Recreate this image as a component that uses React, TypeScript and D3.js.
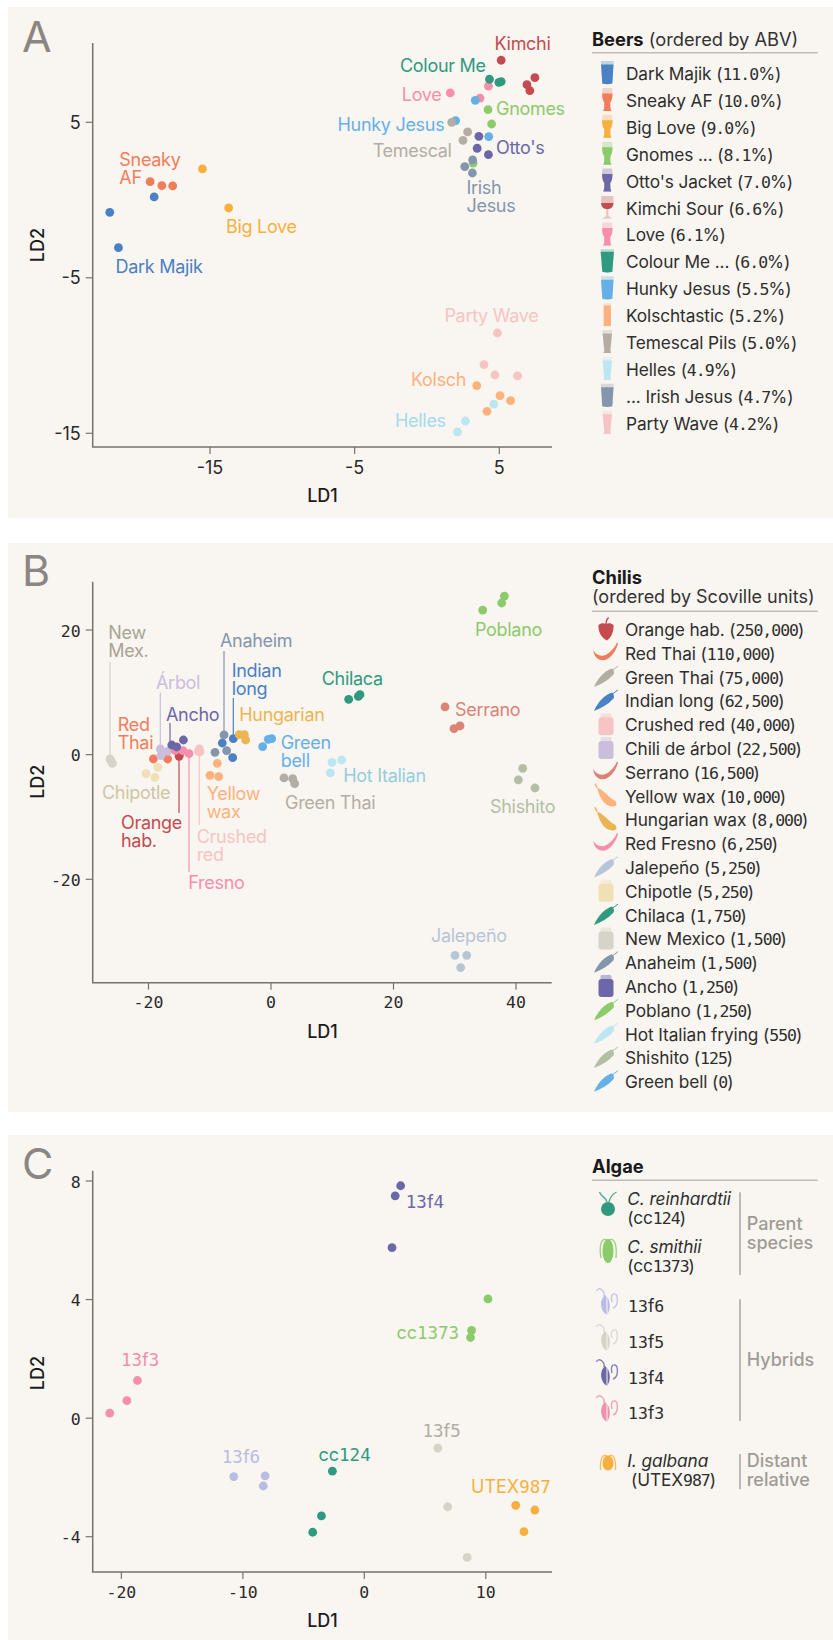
import React from 'react';
import * as d3 from 'd3';

// ---------- data ----------
const beerNames = ['Dark Majik','Sneaky AF','Big Love','Gnomes','Otto','Kimchi','Love','Colour Me','Hunky Jesus','Kolsch','Temescal','Helles','Irish Jesus','Party Wave'];
const beerPoints: [number,number][][] = [
  [[-21.93,-0.79],[-21.33,-3.06],[-18.86,0.2]],
  [[-19.14,1.18],[-18.33,0.93],[-17.58,0.91]],
  [[-15.52,2.0],[-13.71,-0.51]],
  [[4.22,5.81],[4.47,4.89],[3.19,2.38]],
  [[3.59,4.1],[3.47,3.33],[4.25,2.92]],
  [[5.13,8.99],[7.46,7.87],[6.91,7.42],[7.11,7.04]],
  [[1.61,6.89],[4.25,7.32],[3.67,6.56]],
  [[4.32,7.77],[4.97,7.57],[5.13,7.62]],
  [[3.34,6.41],[1.98,5.11],[4.27,4.08]],
  [[3.44,-11.93],[5.05,-12.58],[5.78,-12.9],[4.15,-13.59]],
  [[1.71,5.0],[2.81,4.38],[2.49,3.84]],
  [[4.62,-13.13],[2.66,-14.21],[2.11,-14.91]],
  [[3.16,2.58],[2.61,2.15],[3.14,1.74]],
  [[4.87,-8.55],[3.94,-10.58],[4.7,-11.25],[6.26,-11.31]],
];
const beerColors = ['#4a80c4','#f27d5a','#f7b03e','#8bcb6b','#6c68a8','#c44b4f','#f78fab','#2f9a80','#66b0e8','#fdb27d','#b3ada4','#bde6f3','#8496ad','#f6c4c2'];
const beerLegend = ['Dark Majik (11.0%)','Sneaky AF (10.0%)','Big Love (9.0%)','Gnomes ... (8.1%)',"Otto's Jacket (7.0%)",'Kimchi Sour (6.6%)','Love (6.1%)','Colour Me ... (6.0%)','Hunky Jesus (5.5%)','Kolschtastic (5.2%)','Temescal Pils (5.0%)','Helles (4.9%)','... Irish Jesus (4.7%)','Party Wave (4.2%)'];
const beerGlass = ['pint','tulip','tulip','tulip','tulip','wine','tulip','wide','pint','stange','pils','pils','pint','pils'];

const chiliPoints: [number,number][][] = [
  [[-15.0,-0.27],[-15.4,0.6],[-14.9,0.2]],
  [[-19.2,-0.7],[-16.87,-0.7],[-15.4,1.07]],
  [[2.12,-3.74],[3.54,-3.85],[3.86,-4.65]],
  [[-7.95,1.87],[-6.15,2.57],[-6.26,-0.48]],
  [[-11.7,0.91],[-11.6,0.43],[-11.86,0.53]],
  [[-18.07,0.91],[-18.0,-0.16],[-16.87,0.53]],
  [[28.41,7.65],[29.88,4.17],[30.86,4.6]],
  [[-8.76,-1.39],[-9.96,-3.32],[-8.54,-3.53]],
  [[-5.17,3.21],[-4.35,3.21],[-4.14,2.35]],
  [[-14.4,0.64],[-13.39,0.16],[-15.67,0.7]],
  [[30.04,-32.2],[31.95,-32.2],[30.97,-34.17]],
  [[-18.5,-2.03],[-20.4,-3.05],[-18.94,-3.64]],
  [[12.68,8.88],[14.26,9.36],[14.53,9.63]],
  [[-26.29,-0.7],[-25.9,-1.39],[-26.1,-1.0]],
  [[-7.67,3.16],[-9.14,0.37],[-7.24,0.64]],
  [[-16.2,1.55],[-15.4,1.23],[-14.3,2.35]],
  [[34.56,23.2],[37.66,24.33],[38.1,25.45]],
  [[11.54,-0.86],[9.96,-1.23],[9.69,-2.94]],
  [[41.09,-2.19],[40.38,-4.06],[43.1,-5.35]],
  [[-1.36,1.28],[-0.44,2.46],[0.11,2.57]],
];
const chiliColors = ['#c44b4f','#f27d5a','#b3ada4','#4a80c4','#f6c4c2','#cbbedd','#dc8376','#fdb27d','#ecb553','#f78fab','#b6c6d6','#efe0b5','#2f9a80','#d6d3c8','#8496ad','#6c68a8','#8bcb6b','#bde6f3','#b3bfa5','#66b0e8'];
const chiliLegend = ['Orange hab. (250,000)','Red Thai (110,000)','Green Thai (75,000)','Indian long (62,500)','Crushed red (40,000)','Chili de árbol (22,500)','Serrano (16,500)','Yellow wax (10,000)','Hungarian wax (8,000)','Red Fresno (6,250)','Jalepeño (5,250)','Chipotle (5,250)','Chilaca (1,750)','New Mexico (1,500)','Anaheim (1,500)','Ancho (1,250)','Poblano (1,250)','Hot Italian frying (550)','Shishito (125)','Green bell (0)'];
const chiliShape = ['hab','thin','long','long','jar','jar','thin','wax','wax','thin','long','jar','long','jar','long','jar','long','long','long','long'];

const algaeNames = ['13f4','cc1373','13f3','13f5','13f6','cc124','UTEX987'];
const algaePoints: [number,number][][] = [
  [[2.99,7.84],[2.54,7.5],[2.28,5.75]],
  [[10.18,4.02],[8.83,2.96],[8.74,2.72]],
  [[-18.68,1.27],[-19.55,0.59],[-20.96,0.17]],
  [[6.05,-1.01],[6.86,-2.99],[8.47,-4.7]],
  [[-10.75,-1.97],[-8.17,-1.95],[-8.32,-2.29]],
  [[-2.63,-1.79],[-3.53,-3.3],[-4.25,-3.85]],
  [[12.46,-2.94],[14.04,-3.1],[13.14,-3.83]],
];
const algaeColors = ['#6c68a8','#8bcb6b','#f78fab','#d6d3c8','#b8bde3','#2f9a80','#f7b03e'];

const xTicksA = [-15,-5,5]; const yTicksA = [5,-5,-15];
const xTicksB = [-20,0,20,40]; const yTicksB = [20,0,-20];
const xTicksC = [-20,-10,0,10]; const yTicksC = [8,4,0,-4];

// ---------- layout of annotations ----------
type L = [string[], number, number, string];
const labelsA: L[] = [
  [['Kimchi'],494.5,50,'#c44b4f'],[['Colour Me'],400,72.3,'#2f9a80'],[['Love'],401.8,100.7,'#f78fab'],
  [['Gnomes'],496,115,'#8bcb6b'],[['Hunky Jesus'],337.5,130.7,'#66b0e8'],[["Otto's"],496,154,'#6c68a8'],
  [['Temescal'],372.7,157.3,'#b3ada4'],[['Sneaky','AF'],119.3,165.7,'#f27d5a'],[['Big Love'],226,233,'#f7b03e'],
  [['Dark Majik'],115.6,272.7,'#4a80c4'],[['Irish','Jesus'],466.5,194.3,'#8496ad'],[['Party Wave'],444.4,322.3,'#f6c4c2'],
  [['Kolsch'],411,385.7,'#fdb27d'],[['Helles'],395,427,'#a3dbec'],
];
const labelsB: L[] = [
  [['New','Mex.'],108.3,639,'#a8a494'],[['Anaheim'],220,646.7,'#8496ad'],[['Indian','long'],231.7,676.7,'#4a80c4'],
  [['Árbol'],156,689,'#cbbedd'],[['Ancho'],166,720.7,'#6c68a8'],[['Hungarian'],239.3,720.7,'#ecb553'],
  [['Red','Thai'],117.7,731.3,'#f27d5a'],[['Chipotle'],102,799,'#cfc6a6'],[['Orange','hab.'],121,829.3,'#c44b4f'],
  [['Yellow','wax'],206.7,800,'#fdb27d'],[['Crushed','red'],196.7,842.7,'#f6c4c2'],[['Fresno'],188.3,889,'#f78fab'],
  [['Green','bell'],280.7,748.7,'#66b0e8'],[['Chilaca'],321.7,685,'#2f9a80'],[['Poblano'],475,636.3,'#8bcb6b'],
  [['Serrano'],455,715.7,'#dc8376'],[['Hot Italian'],343.3,782,'#93cde0'],[['Green Thai'],285,808.7,'#b3ada4'],
  [['Shishito'],490,813.3,'#b3bfa5'],[['Jalepeño'],431,942.3,'#b6c6d6'],
];
const leadersB: [number,number,number,string][] = [
  [110,661.7,755,'#d6d3c8'],[224,651,731.7,'#8496ad'],[233.3,698,735,'#4a80c4'],[160.3,692.7,746.7,'#cbbedd'],
  [170,723,743,'#6c68a8'],[179,813,758,'#c44b4f'],[199.3,825,753,'#f6c4c2'],[189,871.7,755,'#f78fab'],
];
const labelsC: [string,number,number,string][] = [
  ['13f4',405.8,1208,'#6c68a8'],['cc1373',396.4,1339.3,'#8bcb6b'],['13f3',121,1366.3,'#f08fab'],['13f5',422.5,1437,'#b3ada4'],
  ['13f6',221.8,1463.3,'#b8bde3'],['cc124',318.5,1460.7,'#2f9a80'],['UTEX987',471,1493.3,'#f7b03e'],
];

const SANS = 'Inter, "Noto Sans", sans-serif';
const MONO = '"DejaVu Sans Mono", monospace';
const INK = '#2a2a2a';
const AXIS = '#77726d';
const PANEL = '#f9f5f0';

function Mixed({ t, size, ls = 0 }: { t: string; size: number; ls?: number }) {
  return <>{t.split(/(\d[\d.,]*)/).map((s, i) =>
    /^\d/.test(s) ? <tspan key={i} fontFamily={MONO} fontSize={size} letterSpacing={ls}>{s}</tspan> : <tspan key={i}>{s}</tspan>)}</>;
}

function Glass({ kind, c, x, y }: { kind: string; c: string; x: number; y: number }) {
  const shapes: Record<string,[string,string]> = {
    pint: ['M-6.5,-11.5L6.5,-11.5L5,11Q0,12.5 -5,11Z','M-6.2,-8L6.2,-8L5,11Q0,12.5 -5,11Z'],
    wide: ['M-6.8,-11.5L6.8,-11.5L5,11Q0,12.5 -5,11Z','M-6.6,-9L6.6,-9L5,11Q0,12.5 -5,11Z'],
    tulip: ['M-4.6,-11.5C-5.8,-6 -5.4,0 -3,3L-3,8L-4,11.5L4,11.5L3,8L3,3C5.4,0 5.8,-6 4.6,-11.5Z','M-5.2,-6C-5.2,-2 -4.6,1 -3,3L-3,8L-4,11.5L4,11.5L3,8L3,3C4.6,1 5.2,-2 5.2,-6Z'],
    wine: ['M-6,-11C-7,-3 -5,1 -1,2L-1,9L-5,11.5L5,11.5L1,9L1,2C5,1 7,-3 6,-11Z','M-6.2,-4C-6,0 -4,1.5 -1,2L1,2C4,1.5 6,0 6.2,-4Z'],
    stange: ['M-3.6,-11.5L3.6,-11.5L3.6,11.5L-3.6,11.5Z','M-3.6,-9L3.6,-9L3.6,11.5L-3.6,11.5Z'],
    pils: ['M-5,-11.5L5,-11.5L3,9L4,11.5L-4,11.5L-3,9Z','M-4.7,-8L4.7,-8L3,9L4,11.5L-4,11.5L-3,9Z'],
  };
  const [o, l] = shapes[kind];
  return <g transform={`translate(${x},${y})`}><path d={o} fill={c} opacity={0.3} /><path d={l} fill={c} /></g>;
}

function Chili({ kind, c, x, y }: { kind: string; c: string; x: number; y: number }) {
  const g = (ch: React.ReactNode) => <g transform={`translate(${x},${y})`}>{ch}</g>;
  if (kind === 'jar') return g(<><rect x={-7.5} y={-7} width={15} height={18} rx={3} fill={c} /><rect x={-5.5} y={-11} width={11} height={4.5} rx={1.5} fill={c} opacity={0.45} /></>);
  if (kind === 'hab') return g(<><path d="M-7.5,-4C-5,-6.5 -2,-6 0,-5C2,-6 5,-6.5 7.5,-4C8,1 6,8 1,11.5C-5,9 -8,2 -7.5,-4Z" fill={c} /><path d="M0,-5C0,-8 1,-10 2.5,-11.5" stroke={c} strokeWidth={1.5} fill="none" /></>);
  if (kind === 'thin') return g(<path d="M-12.5,-3C-11,2 -5,4.5 0,2C4,0 9,-5 11,-10.5L12,-9C10,-2 5,6 -2,7.5C-8,8 -13,3 -12.5,-3Z" fill={c} />);
  if (kind === 'wax') return g(<><path d="M-9,-8C-4,-6 0,-2 3,1C6,4 10.5,5 10.5,8C10.5,12 5,11.5 1,9.5C-4,6 -7,0 -9,-8Z" fill={c} /><path d="M-9,-8L-11,-12" stroke={c} strokeWidth={1.5} /></>);
  return g(<><path d="M-12,10.5C-8,1 -1,-6 6,-8C8,-6 8.5,-4 7.5,-2C2,4 -5,8 -12,10.5Z" fill={c} /><path d="M6,-6L12,-10.5" stroke={c} strokeWidth={1} /></>);
}

function Alga({ kind, c, x, y }: { kind: string; c: string; x: number; y: number }) {
  const fl = { stroke: c, strokeWidth: 1.4, fill: 'none', opacity: 0.8 };
  let inner: React.ReactNode;
  if (kind === 'round') inner = <><circle cx={0} cy={5} r={7} fill={c} /><path d="M-1,-2C-2,-7 -7,-7 -8.5,-12" {...fl} /><path d="M1,-2C2,-7 5,-10 8.5,-12" {...fl} /></>;
  else if (kind === 'oval') inner = <><ellipse cx={0} cy={1} rx={5.5} ry={12} fill={c} /><path d="M-1,-10C-7,-13 -9,-4 -7,8" {...fl} /><path d="M1,-10C7,-13 9,-4 8,8" {...fl} /></>;
  else if (kind === 'small') inner = <><ellipse cx={0} cy={0} rx={5.5} ry={7.5} fill={c} /><path d="M-1,-7C-6,-10 -8,-2 -7.5,7" {...fl} /><path d="M1,-7C6,-10 8,-2 7.5,7" {...fl} /></>;
  else inner = <><path d="M-2,-7C-8,-2 -7,9 0,13C4,8 4,-3 -2,-7Z" fill={c} /><path d="M0,-6L0,13" stroke={PANEL} strokeWidth={1} /><path d="M-3,-6C-2,-12 -9,-16 -10.5,-11" {...fl} /><path d="M6,6C12,4 11,-7 8,-8C4,-9 4,-3 5,0" {...fl} /></>;
  return <g transform={`translate(${x},${y})`}>{inner}</g>;
}

function Axes({ x, y, xt, yt, left, top, right, bottom, mono, xBase, ldxBase, ldyCenter, letter, letterBase }: any) {
  const fam = mono ? MONO : SANS;
  const fs = mono ? 16.5 : 18;
  return <g>
    <path d={`M${left},${top}V${bottom}H${right}`} fill="none" stroke={AXIS} strokeWidth={1.5} />
    {yt.map((t: number) => <g key={t}>
      <line x1={left - 7} x2={left} y1={y(t)} y2={y(t)} stroke={AXIS} strokeWidth={1.2} />
      <text x={left - 12} y={y(t) + 6.5} textAnchor="end" fontFamily={fam} fontSize={fs} fill={INK}>{String(t)}</text>
    </g>)}
    {xt.map((t: number) => <g key={t}>
      <line x1={x(t)} x2={x(t)} y1={bottom} y2={bottom + 7} stroke={AXIS} strokeWidth={1.2} />
      <text x={x(t)} y={xBase} textAnchor="middle" fontFamily={fam} fontSize={fs} fill={INK}>{String(t)}</text>
    </g>)}
    <text x={322.5} y={ldxBase} textAnchor="middle" fontFamily={SANS} fontSize={18} fontWeight={500} fill="#1c1c1c">LD1</text>
    <text transform={`translate(44.4,${ldyCenter}) rotate(-90)`} textAnchor="middle" fontFamily={SANS} fontSize={18} fontWeight={500} fill="#1c1c1c">LD2</text>
    <text x={22} y={letterBase} fontFamily={SANS} fontSize={43} fontWeight={400} fill="#8b8682">{letter}</text>
  </g>;
}

function Dots({ pts, x, y, colors, r }: any) {
  return <g>{pts.map((s: [number,number][], i: number) => s.map((p, j) =>
    <circle key={`${i}-${j}`} cx={x(p[0])} cy={y(p[1])} r={r} fill={colors[i]} />))}</g>;
}

function Labels({ items }: { items: L[] }) {
  return <g fontFamily={SANS} fontSize={18} letterSpacing={-0.3}>
    {items.map(([lines, lx, ly, c]) => <text key={lines.join()} fill={c}>
      {lines.map((t, i) => <tspan key={t} x={lx} y={ly + i * 18}>{t}</tspan>)}
    </text>)}
  </g>;
}

export default function App() {
  const xA = d3.scaleLinear().domain([-15, 5]).range([210, 499.3]);
  const yA = d3.scaleLinear().domain([-15, 5]).range([433.3, 122.3]);
  const xB = d3.scaleLinear().domain([0, 40]).range([271, 516]);
  const yB = d3.scaleLinear().domain([-20, 20]).range([879.3, 630]);
  const xC = d3.scaleLinear().domain([-20, 10]).range([121.4, 485.8]);
  const yC = d3.scaleLinear().domain([-4, 8]).range([1536.7, 1181]);
  const legendFont = { fontFamily: SANS, fontSize: 17.3, letterSpacing: -0.1, fill: '#2e2e2e' } as any;
  const DIG = 16.5;
  const DLS = -1;
  return (
    <div style={{ position: 'absolute', left: 0, top: 0 }}>
      <svg width={833} height={1640} style={{ display: 'block', background: '#fff' }}>
        <rect x={8} y={7} width={825} height={511} fill={PANEL} />
        <rect x={8} y={543} width={825} height={569} fill={PANEL} />
        <rect x={8} y={1135} width={825} height={505} fill={PANEL} />

        {/* A */}
        <Axes x={xA} y={yA} xt={xTicksA} yt={yTicksA} left={92.7} top={43} right={552} bottom={447} xBase={474} ldxBase={502} ldyCenter={245} letter="A" letterBase={51.7} />
        <Dots pts={beerPoints} x={xA} y={yA} colors={beerColors} r={4.4} />
        <Labels items={labelsA} />
        <text x={592} y={46} fontFamily={SANS} fontSize={18.3} fill="#1a1a1a"><tspan fontWeight={700}>Beers</tspan> <tspan fill="#333">(ordered by ABV)</tspan></text>
        <line x1={592} x2={817.7} y1={52.7} y2={52.7} stroke="#c2bbb4" strokeWidth={1.5} />
        {beerLegend.map((t, i) => <g key={t}>
          <Glass kind={beerGlass[i]} c={beerColors[i]} x={607.3} y={72.5 + i * 26.9} />
          <text x={626} y={80 + i * 26.9} {...legendFont}><Mixed t={t} size={DIG} ls={DLS} /></text>
        </g>)}

        {/* B */}
        <Axes x={xB} y={yB} xt={xTicksB} yt={yTicksB} left={92.7} top={581.7} right={551.7} bottom={982.7} mono xBase={1008} ldxBase={1038} ldyCenter={781.7} letter="B" letterBase={585.7} />
        {leadersB.map(([lx, y1, y2, c], i) => <line key={i} x1={lx} x2={lx} y1={y1} y2={y2} stroke={c} strokeWidth={1.2} />)}
        <Dots pts={chiliPoints} x={xB} y={yB} colors={chiliColors} r={4.4} />
        <Labels items={labelsB} />
        <text x={592} y={583.7} fontFamily={SANS} fontSize={18.3} fontWeight={700} fill="#1a1a1a">Chilis</text>
        <text x={592} y={602.7} fontFamily={SANS} fontSize={18} fill="#333">(ordered by Scoville units)</text>
        <line x1={592} x2={817.7} y1={611.3} y2={611.3} stroke="#c2bbb4" strokeWidth={1.5} />
        {chiliLegend.map((t, i) => <g key={t}>
          <Chili kind={chiliShape[i]} c={chiliColors[i]} x={606} y={629 + i * 23.8} />
          <text x={625} y={636 + i * 23.8} {...legendFont}><Mixed t={t} size={DIG} ls={DLS} /></text>
        </g>)}

        {/* C */}
        <Axes x={xC} y={yC} xt={xTicksC} yt={yTicksC} left={92.7} top={1170.7} right={552} bottom={1572} mono xBase={1598} ldxBase={1626.7} ldyCenter={1373} letter="C" letterBase={1179} />
        <Dots pts={algaePoints} x={xC} y={yC} colors={algaeColors} r={4.4} />
        <g fontFamily={SANS} fontSize={18}>
          {labelsC.map(([t, lx, ly, c]) => <text key={t} x={lx} y={ly} fill={c}><Mixed t={t} size={17.5} /></text>)}
        </g>
        <text x={592} y={1173.3} fontFamily={SANS} fontSize={18.3} fontWeight={700} fill="#1a1a1a">Algae</text>
        <line x1={592} x2={817.7} y1={1180.3} y2={1180.3} stroke="#c2bbb4" strokeWidth={1.5} />
        <Alga kind="round" c="#2f9a80" x={608} y={1204} />
        <Alga kind="oval" c="#8bcb6b" x={608} y={1250} />
        <Alga kind="half" c="#b8bde3" x={607} y={1302} />
        <Alga kind="half" c="#d6d3c8" x={607} y={1338} />
        <Alga kind="half" c="#6c68a8" x={607} y={1373} />
        <Alga kind="half" c="#ee90ab" x={607} y={1409} />
        <Alga kind="small" c="#f7b03e" x={608} y={1463} />
        <g {...legendFont}>
          <text x={627.3} y={1205} fontStyle="italic">C. reinhardtii</text>
          <text x={627.3} y={1224}><Mixed t="(cc124)" size={DIG} ls={DLS} /></text>
          <text x={627.3} y={1252.7} fontStyle="italic">C. smithii</text>
          <text x={627.3} y={1271.7}><Mixed t="(cc1373)" size={DIG} ls={DLS} /></text>
          <text x={628} y={1312.3}><Mixed t="13f6" size={DIG} /></text>
          <text x={628} y={1348.3}><Mixed t="13f5" size={DIG} /></text>
          <text x={628} y={1383.7}><Mixed t="13f4" size={DIG} /></text>
          <text x={628} y={1419.3}><Mixed t="13f3" size={DIG} /></text>
          <text x={627.3} y={1466.7} fontStyle="italic">I. galbana</text>
          <text x={631} y={1485.7}><Mixed t="(UTEX987)" size={DIG} ls={DLS} /></text>
        </g>
        <path d="M740,1192.3V1275M740,1299.3V1421M740,1454V1489.3" stroke="#aaa59f" strokeWidth={1.5} fill="none" />
        <g fontFamily={SANS} fontSize={18} fontWeight={500} fill="#a09b96">
          <text x={746.7} y={1230}>Parent</text>
          <text x={746.7} y={1249}>species</text>
          <text x={746.7} y={1366}>Hybrids</text>
          <text x={746.7} y={1467.3}>Distant</text>
          <text x={746.7} y={1486}>relative</text>
        </g>
      </svg>
    </div>
  );
}
